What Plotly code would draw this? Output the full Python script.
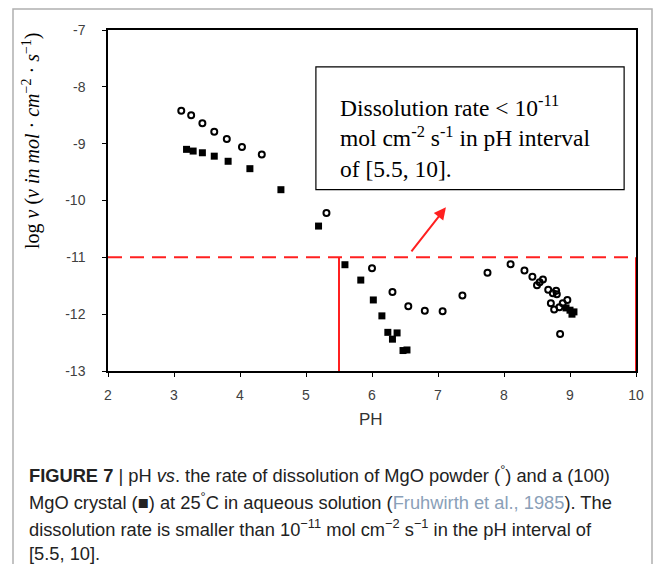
import plotly.graph_objects as go

# MgO powder (open circles)
powder_ph = [3.11, 3.26, 3.43, 3.61, 3.80, 4.03, 4.33, 5.31,
             6.00, 6.31, 6.55, 6.80, 7.07, 7.37, 7.75, 8.10, 8.31, 8.43,
             8.50, 8.54, 8.59, 8.67, 8.74, 8.79, 8.80, 8.71, 8.76, 8.84,
             8.89, 8.96, 8.85]
powder_logv = [-8.42, -8.50, -8.64, -8.79, -8.92, -9.06, -9.19, -10.22,
               -11.19, -11.61, -11.86, -11.94, -11.95, -11.67, -11.27, -11.12, -11.23, -11.34,
               -11.49, -11.44, -11.39, -11.57, -11.63, -11.59, -11.65, -11.81, -11.92, -11.88,
               -11.81, -11.75, -12.35]

# (100) MgO crystal (filled squares)
crystal_ph = [3.19, 3.29, 3.43, 3.61, 3.82, 4.15, 4.62, 5.19,
              5.59, 5.83, 6.02, 6.15, 6.24, 6.31, 6.38, 6.47, 6.53,
              8.94, 9.00, 9.06, 9.03]
crystal_logv = [-9.10, -9.13, -9.16, -9.22, -9.31, -9.44, -9.81, -10.45,
                -11.13, -11.40, -11.75, -12.03, -12.32, -12.44, -12.33, -12.64, -12.63,
                -11.89, -11.93, -11.96, -12.00]

x_ticks = [2, 3, 4, 5, 6, 7, 8, 9, 10]
y_ticks = [-7, -8, -9, -10, -11, -12, -13]
y_tick_text = ["-7", "-8", "-9", "-10", "-11", "-12", "-13"]
threshold = -11
ph_interval = [5.5, 10]
arrow_tail = [6.58, -10.92]
arrow_head = [7.12, -10.12]
box_x = [5.15, 9.82]
box_y = [-7.65, -9.81]

W, H = 665, 564
ML, MR, MT, MB = 108, 29, 30, 193
PW, PH = W - ML - MR, H - MT - MB


def px(xp):
    return (xp - ML) / PW


def py(yp):
    return (H - MB - yp) / PH


fig = go.Figure()
fig.add_trace(go.Scatter(
    x=powder_ph, y=powder_logv, mode="markers",
    marker=dict(symbol="circle-open", size=6, color="black", line=dict(width=2, color="black")),
    showlegend=False))
fig.add_trace(go.Scatter(
    x=crystal_ph, y=crystal_logv, mode="markers",
    marker=dict(symbol="square", size=7, color="black"),
    showlegend=False))

red = "#ff2020"
# dashed threshold line
fig.add_shape(type="line", x0=x_ticks[0], x1=x_ticks[-1], y0=threshold, y1=threshold,
              line=dict(color=red, width=2, dash="14px,8px"))
# vertical lines of the pH interval
for xv in ph_interval:
    fig.add_shape(type="line", x0=xv, x1=xv, y0=threshold, y1=y_ticks[-1],
                  line=dict(color=red, width=2))
# text box
fig.add_shape(type="rect", x0=box_x[0], x1=box_x[1], y0=box_y[1], y1=box_y[0],
              line=dict(color="black", width=1.2), fillcolor="white")
fig.add_annotation(x=box_x[0] + 0.33, y=(box_y[0] + box_y[1]) / 2 - 0.14, xanchor="left", yanchor="middle",
                   align="left", showarrow=False,
                   text="Dissolution rate < 10<sup>-11</sup><br>mol cm<sup>-2</sup> s<sup>-1</sup> in pH interval<br>of [5.5, 10].",
                   font=dict(family="Liberation Serif", size=23.5, color="black"))
# arrow
fig.add_annotation(x=arrow_head[0], y=arrow_head[1], ax=arrow_tail[0], ay=arrow_tail[1],
                   axref="x", ayref="y", showarrow=True, arrowhead=2, arrowsize=1.2,
                   arrowwidth=2, arrowcolor=red, text="")

# y-axis title
fig.add_annotation(xref="paper", yref="paper", x=px(31), y=py(141), textangle=-90,
                   showarrow=False, xanchor="center", yanchor="middle",
                   text="log <i>v</i> (<i>v in mol</i> · <i>cm</i><sup>−2</sup> · <i>s</i><sup>−1</sup>)",
                   font=dict(family="Liberation Serif", size=20, color="black"))
# x-axis title
fig.add_annotation(xref="paper", yref="paper", x=px(371), y=py(419), showarrow=False,
                   xanchor="center", yanchor="middle", text="PH",
                   font=dict(family="Liberation Sans", size=17, color="#333333"))

cap_font = dict(family="Liberation Sans", size=18.3, color="#222222")
captions = [
    "<b>FIGURE 7</b> | pH <i>vs</i>. the rate of dissolution of MgO powder (<sup>°</sup>) and a (100)",
    "MgO crystal (■) at 25<sup>°</sup>C in aqueous solution (<span style='color:#8aa0b8'>Fruhwirth et al., 1985</span>). The",
    "dissolution rate is smaller than 10<sup>−11</sup> mol cm<sup>−2</sup> s<sup>−1</sup> in the pH interval of",
    "[5.5, 10].",
]
cap_y = [474, 501, 528, 553]
for t, yy in zip(captions, cap_y):
    fig.add_annotation(xref="paper", yref="paper", x=px(27), y=py(yy), showarrow=False,
                       xanchor="left", yanchor="middle", align="left", text=t, font=cap_font)

# outer gray frame
fig.add_shape(type="rect", xref="paper", yref="paper", x0=px(13), x1=px(652), y0=py(9), y1=py(575),
              line=dict(color="#b0b0b0", width=1.5))

axis_common = dict(showgrid=False, zeroline=False, showline=True, linecolor="black", linewidth=1.5,
                   mirror=True, ticks="outside", ticklen=4, tickcolor="black",
                   tickfont=dict(family="Liberation Sans", size=14, color="#404040"))
fig.update_layout(
    width=W, height=H,
    margin=dict(l=ML, r=MR, t=MT, b=MB),
    paper_bgcolor="white", plot_bgcolor="white",
    xaxis=dict(range=[2, 10], tickvals=x_ticks, ticklabelstandoff=6, **axis_common),
    yaxis=dict(range=[-13, -7], tickvals=y_ticks, ticktext=y_tick_text, ticklabelstandoff=14, **axis_common),
)
fig.write_html("out.html")
